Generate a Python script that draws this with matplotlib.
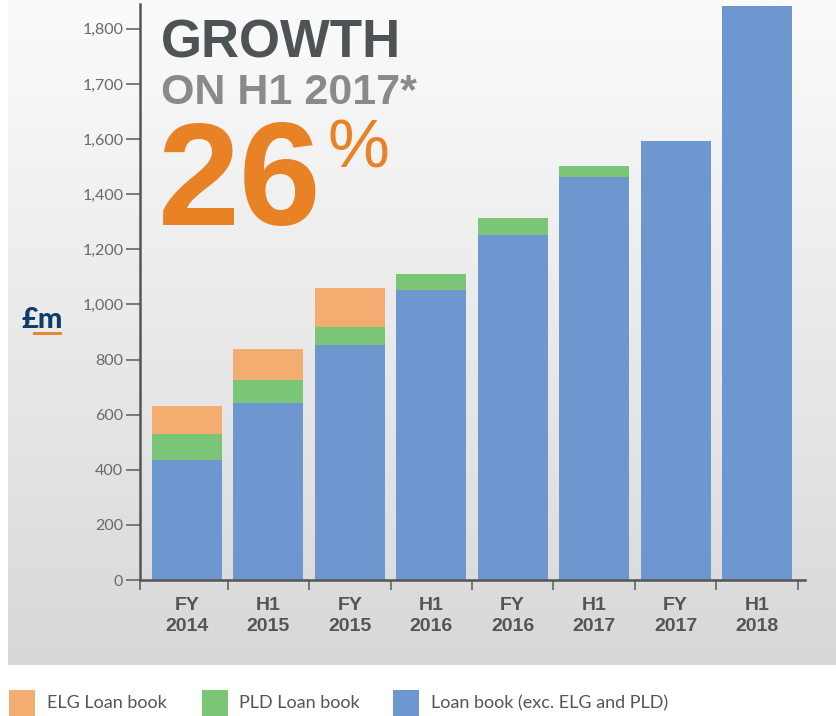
import matplotlib
matplotlib.use('Agg')
import matplotlib.pyplot as plt
import numpy as np

# data (GBP m)
periods = ['FY\n2014', 'H1\n2015', 'FY\n2015', 'H1\n2016', 'FY\n2016', 'H1\n2017', 'FY\n2017', 'H1\n2018']
core_book = [437, 644, 852, 1052, 1252, 1464, 1594, 1842]
pld_book = [91, 80, 65, 58, 62, 39, 0, 0]
elg_book = [105, 113, 142, 0, 0, 0, 0, 0]
y_ticks = [0, 200, 400, 600, 800, 1000, 1200, 1400, 1600, 1700, 1800]

ORANGE = '#f4ad70'
GREEN = '#7bc576'
BLUE = '#6f97cf'
GREY_TXT = '#555555'

W, H = 836, 716
fig = plt.figure(figsize=(W / 100, H / 100), dpi=100)


def fx(x):
    return x / W


def fy(y):
    return 1 - y / H


# grey gradient panel behind the chart
bg = fig.add_axes([fx(8), fy(665), 828 / W, 665 / H], zorder=0)
grad = np.linspace(0, 1, 256).reshape(-1, 1)
top_c = np.array([251, 251, 251]) / 255
bot_c = np.array([216, 216, 216]) / 255
img = top_c + grad[..., None] * (bot_c - top_c)
bg.imshow(img, aspect='auto', extent=[0, 1, 0, 1])
bg.axis('off')

ax = fig.add_axes([fx(140), fy(580), 665 / W, 576 / H], zorder=1)
ax.patch.set_alpha(0)


# axis is stretched above 1,600 like the original
def fwd(v):
    v = np.asarray(v, dtype=float)
    return np.where(v <= 1600, v, 1600 + 2 * (v - 1600))


def inv(p):
    p = np.asarray(p, dtype=float)
    return np.where(p <= 1600, p, 1600 + (p - 1600) / 2)


ax.set_yscale('function', functions=(fwd, inv))

x = np.arange(len(periods))
core = np.array(core_book)
pld = np.array(pld_book)
elg = np.array(elg_book)
bw = 0.86
ax.bar(x, core, bw, color=BLUE, zorder=2)
ax.bar(x, pld, bw, bottom=core, color=GREEN, zorder=2)
ax.bar(x, elg, bw, bottom=core + pld, color=ORANGE, zorder=2)

ax.set_xlim(-0.577, 7.59)
ax.set_ylim(0, 1845)

ax.set_yticks(y_ticks)
ax.set_yticklabels([f'{v:,}' for v in y_ticks], fontfamily='Lato', fontsize=11.5, color='#6a6a6a')
ax.yaxis.set_minor_locator(plt.NullLocator())
ax.tick_params(axis='y', length=10, width=1.2, color='#666666', pad=2)

ax.set_xticks(x)
ax.set_xticklabels(periods, fontfamily='Liberation Sans', fontweight='bold', fontsize=14,
                   color=GREY_TXT, linespacing=1.3)
ax.tick_params(axis='x', length=0, pad=12)
ax.set_xticks(np.concatenate([[-0.577], np.arange(0.5, 8, 1)]), minor=True)
ax.tick_params(axis='x', which='minor', length=7, width=1.2, color='#666666')

for s in ['top', 'right']:
    ax.spines[s].set_visible(False)
for s in ['left', 'bottom']:
    ax.spines[s].set_color('#555555')
    ax.spines[s].set_linewidth(1.8)

# headline
fig.text(fx(161), fy(58), 'GROWTH', fontfamily='Liberation Sans', fontweight='bold', fontsize=38,
         color='#4e5355', va='baseline', ha='left')
fig.text(fx(161), fy(104), 'ON H1 2017*', fontfamily='Liberation Sans', fontweight='bold', fontsize=31,
         color='#8a8a8a', va='baseline', ha='left')
fig.text(fx(158), fy(225), '26', fontfamily='Liberation Sans', fontweight='bold', fontsize=106,
         color='#e98125', va='baseline', ha='left')
fig.text(fx(328), fy(168), '%', fontfamily='Liberation Sans', fontsize=50,
         color='#e98125', va='baseline', ha='left')

# unit label
fig.text(fx(21), fy(328), '£m', fontfamily='Lato', fontweight='black', fontsize=21,
         color='#0f3b67', va='baseline', ha='left')
fig.add_artist(plt.Line2D([fx(34), fx(60)], [fy(333), fy(333)], color='#e98125', lw=2))

# legend along the bottom
legend_items = [('ELG Loan book', ORANGE, 9, 47), ('PLD Loan book', GREEN, 202, 239),
                ('Loan book (exc. ELG and PLD)', BLUE, 393, 431)]
for label, col, sx, tx in legend_items:
    fig.add_artist(plt.Rectangle((fx(sx), fy(716)), 26 / W, 26 / H, color=col, lw=0))
    fig.text(fx(tx), fy(703), label, fontfamily='Lato', fontsize=13, color=GREY_TXT,
             va='center', ha='left')

fig.savefig('out.png', dpi=100)
